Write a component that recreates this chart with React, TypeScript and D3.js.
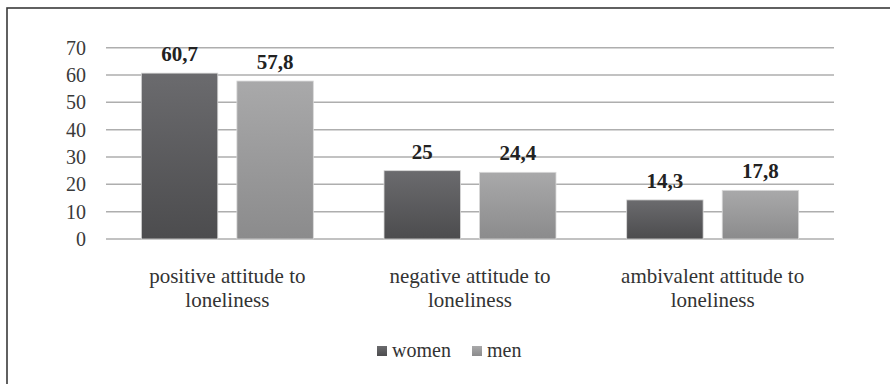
import { useEffect, useRef } from 'react'
import * as d3 from 'd3'

const categories = [
  ['positive attitude to', 'loneliness'],
  ['negative attitude to', 'loneliness'],
  ['ambivalent attitude to', 'loneliness'],
]
const seriesNames = ['women', 'men']
const women = [60.7, 25, 14.3]
const men = [57.8, 24.4, 17.8]
const yTicks = [0, 10, 20, 30, 40, 50, 60, 70]

export default function App() {
  const svgRef = useRef<SVGSVGElement>(null)

  useEffect(() => {
    if (!svgRef.current) return
    const width = 890
    const height = 384
    const margin = { top: 47.7, right: 56, bottom: 145, left: 106 }

    const svg = d3.select(svgRef.current)
    svg.selectAll('*').remove()
    svg.attr('width', width).attr('height', height)

    const font = '"Liberation Serif", "Times New Roman", serif'

    // frame (runs off the right and bottom edges like the scan)
    svg.append('rect')
      .attr('x', 7).attr('y', 8)
      .attr('width', width + 20).attr('height', height + 20)
      .attr('fill', 'white')
      .attr('stroke', '#3a3a3a')
      .attr('stroke-width', 1.6)

    const defs = svg.append('defs')
    const grads = [
      { id: 'g-women', top: '#6b6b6e', bottom: '#4c4c4e' },
      { id: 'g-men', top: '#a9a9aa', bottom: '#8b8b8c' },
    ]
    grads.forEach(g => {
      const lg = defs.append('linearGradient')
        .attr('id', g.id).attr('x1', 0).attr('y1', 0).attr('x2', 0).attr('y2', 1)
      lg.append('stop').attr('offset', '0%').attr('stop-color', g.top)
      lg.append('stop').attr('offset', '100%').attr('stop-color', g.bottom)
    })

    const innerW = width - margin.left - margin.right
    const plotBottom = 239

    const x0 = d3.scaleBand<number>()
      .domain(d3.range(categories.length))
      .range([margin.left, margin.left + innerW])
      .paddingInner(0)
      .paddingOuter(0)

    const x1 = d3.scaleBand<number>()
      .domain([0, 1])
      .range([0, x0.bandwidth()])
      .paddingInner(0.2)
      .paddingOuter(0.37)

    const y = d3.scaleLinear()
      .domain([0, 70])
      .range([plotBottom, margin.top])

    const g = svg.append('g')

    // grid lines
    g.selectAll('line.grid')
      .data(yTicks)
      .enter()
      .append('line')
      .attr('class', 'grid')
      .attr('x1', margin.left)
      .attr('x2', margin.left + innerW)
      .attr('y1', d => y(d))
      .attr('y2', d => y(d))
      .attr('stroke', '#aeaeae')
      .attr('stroke-width', 1.5)

    // y tick labels
    g.selectAll('text.ytick')
      .data(yTicks)
      .enter()
      .append('text')
      .attr('class', 'ytick')
      .attr('x', 86)
      .attr('y', d => y(d))
      .attr('dy', '0.35em')
      .attr('text-anchor', 'end')
      .attr('font-family', font)
      .attr('font-size', 20)
      .attr('fill', '#3a3a3a')
      .text(d => d)

    const series = [women, men]
    const fmt = (v: number) => String(v).replace('.', ',')

    series.forEach((vals, si) => {
      g.selectAll(`rect.s${si}`)
        .data(vals)
        .enter()
        .append('rect')
        .attr('class', `s${si}`)
        .attr('x', (_, i) => (x0(i) ?? 0) + (x1(si) ?? 0))
        .attr('y', d => y(d))
        .attr('width', x1.bandwidth())
        .attr('height', d => plotBottom - y(d))
        .attr('fill', `url(#${grads[si].id})`)
        .attr('stroke', '#d8d8d8')
        .attr('stroke-width', 0.8)

      g.selectAll(`text.v${si}`)
        .data(vals)
        .enter()
        .append('text')
        .attr('class', `v${si}`)
        .attr('x', (_, i) => (x0(i) ?? 0) + (x1(si) ?? 0) + x1.bandwidth() / 2)
        .attr('y', d => y(d) - 12)
        .attr('text-anchor', 'middle')
        .attr('font-family', font)
        .attr('font-weight', 'bold')
        .attr('font-size', 21)
        .attr('fill', '#222')
        .text(d => fmt(d))
    })

    // category labels
    categories.forEach((lines, i) => {
      const cx = (x0(i) ?? 0) + x0.bandwidth() / 2
      const t = g.append('text')
        .attr('x', cx)
        .attr('y', 283)
        .attr('text-anchor', 'middle')
        .attr('font-family', font)
        .attr('font-size', 21)
        .attr('fill', '#333')
      lines.forEach((line, li) => {
        t.append('tspan')
          .attr('x', cx)
          .attr('dy', li === 0 ? 0 : 24)
          .text(line)
      })
    })

    // legend
    const legendX = [377, 472]
    const legend = g.append('g')
    seriesNames.forEach((name, si) => {
      legend.append('rect')
        .attr('x', legendX[si])
        .attr('y', 346)
        .attr('width', 10)
        .attr('height', 10)
        .attr('fill', `url(#${grads[si].id})`)
      legend.append('text')
        .attr('x', legendX[si] + 15)
        .attr('y', 357)
        .attr('font-family', font)
        .attr('font-size', 20)
        .attr('fill', '#333')
        .text(name)
    })
  }, [])

  return (
    <div style={{ position: 'fixed', left: 0, top: 0, width: 890, height: 384, background: 'white' }}>
      <svg ref={svgRef}></svg>
    </div>
  )
}
